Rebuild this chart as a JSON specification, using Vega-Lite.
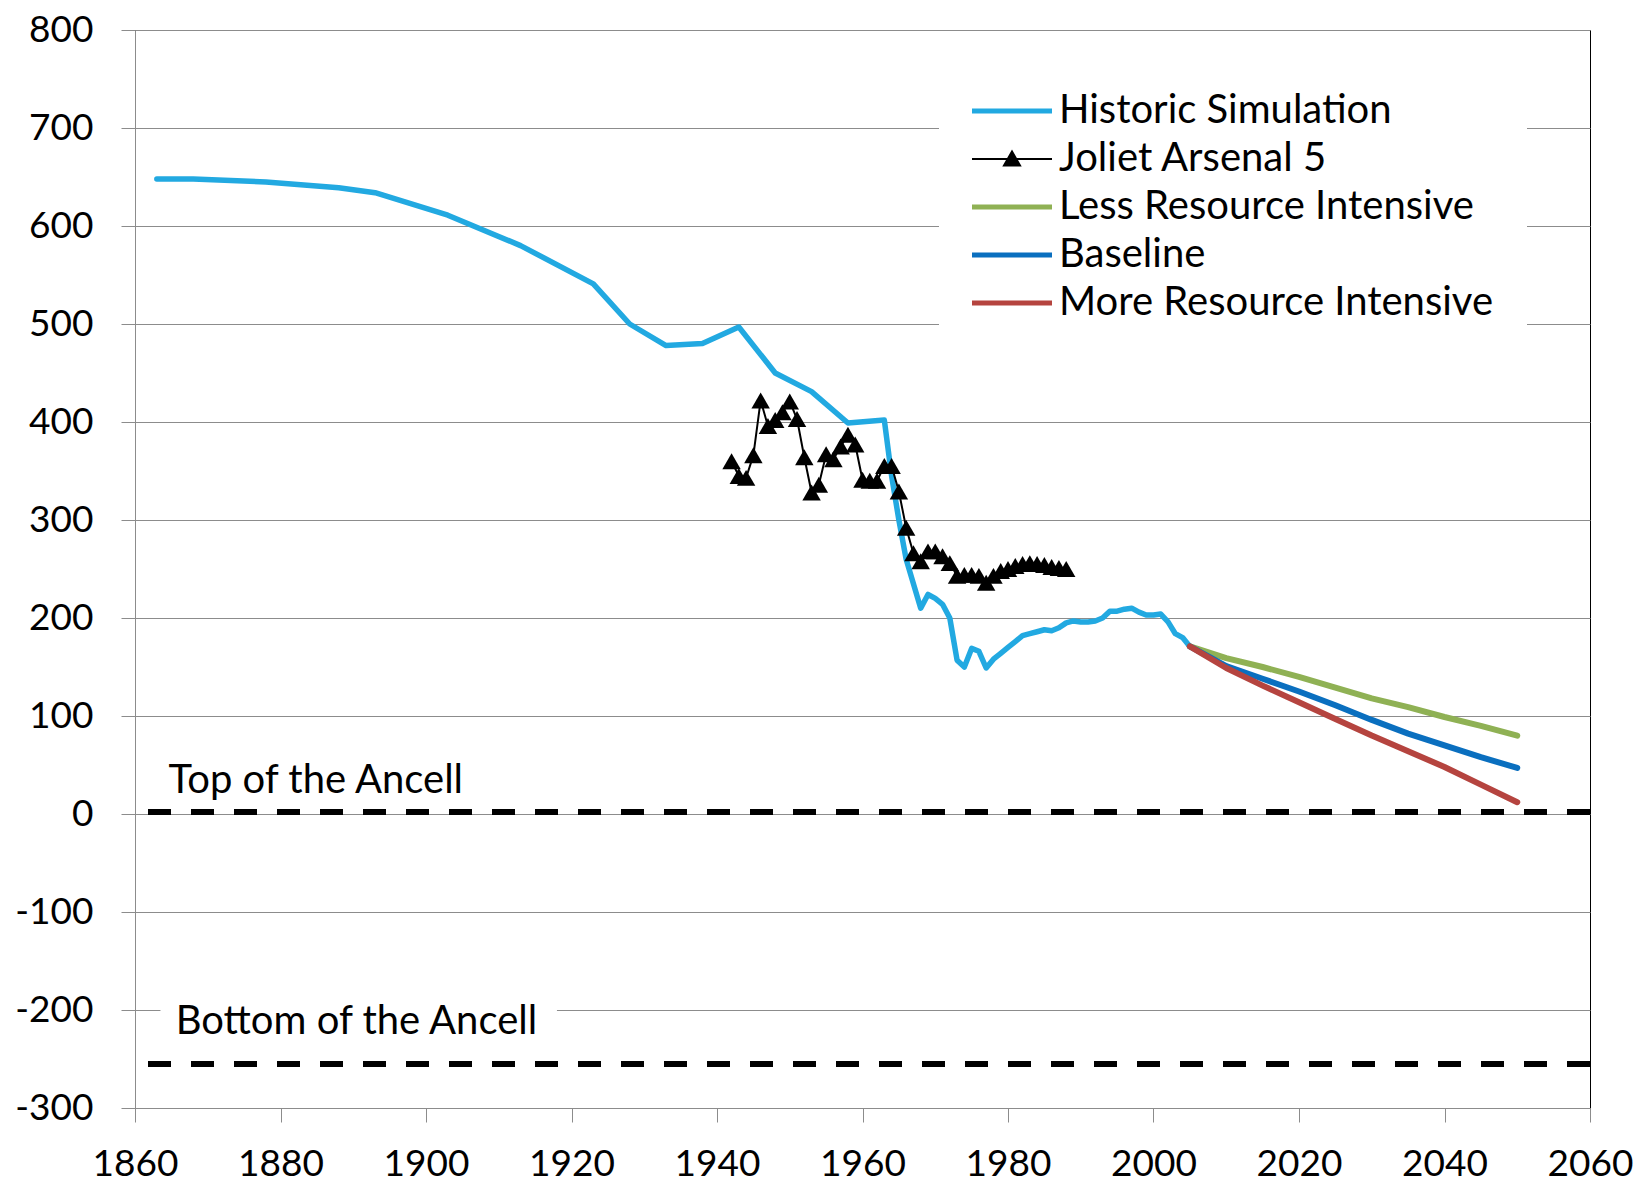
{
  "$schema": "https://vega.github.io/schema/vega-lite/v6.json",
  "width": 1455,
  "height": 1078,
  "autosize": "none",
  "padding": {"left": 135, "top": 30, "right": 58, "bottom": 84},
  "background": "white",
  "config": {
    "font": "Lato",
    "view": {"stroke": "black", "strokeWidth": 1},
    "axis": {
      "labelFont": "Lato",
      "labelFontSize": 37,
      "labelColor": "black",
      "domainColor": "#8c8c8c",
      "tickColor": "#8c8c8c",
      "gridColor": "#8c8c8c",
      "tickSize": 14,
      "title": null
    }
  },
  "datasets": {
    "series": [
      {"series": "Historic Simulation", "year": 1863, "value": 648},
      {"series": "Historic Simulation", "year": 1868, "value": 648},
      {"series": "Historic Simulation", "year": 1878, "value": 645},
      {"series": "Historic Simulation", "year": 1888, "value": 639},
      {"series": "Historic Simulation", "year": 1893, "value": 634},
      {"series": "Historic Simulation", "year": 1903, "value": 611},
      {"series": "Historic Simulation", "year": 1913, "value": 580},
      {"series": "Historic Simulation", "year": 1923, "value": 541},
      {"series": "Historic Simulation", "year": 1928, "value": 500},
      {"series": "Historic Simulation", "year": 1933, "value": 478},
      {"series": "Historic Simulation", "year": 1938, "value": 480},
      {"series": "Historic Simulation", "year": 1943, "value": 497},
      {"series": "Historic Simulation", "year": 1948, "value": 450},
      {"series": "Historic Simulation", "year": 1953, "value": 431},
      {"series": "Historic Simulation", "year": 1958, "value": 399},
      {"series": "Historic Simulation", "year": 1963, "value": 402},
      {"series": "Historic Simulation", "year": 1964, "value": 345},
      {"series": "Historic Simulation", "year": 1965, "value": 300},
      {"series": "Historic Simulation", "year": 1966, "value": 260},
      {"series": "Historic Simulation", "year": 1967, "value": 235},
      {"series": "Historic Simulation", "year": 1968, "value": 210},
      {"series": "Historic Simulation", "year": 1969, "value": 224},
      {"series": "Historic Simulation", "year": 1970, "value": 220},
      {"series": "Historic Simulation", "year": 1971, "value": 214},
      {"series": "Historic Simulation", "year": 1972, "value": 200},
      {"series": "Historic Simulation", "year": 1973, "value": 157},
      {"series": "Historic Simulation", "year": 1974, "value": 150},
      {"series": "Historic Simulation", "year": 1975, "value": 169},
      {"series": "Historic Simulation", "year": 1976, "value": 166},
      {"series": "Historic Simulation", "year": 1977, "value": 149},
      {"series": "Historic Simulation", "year": 1978, "value": 158},
      {"series": "Historic Simulation", "year": 1979, "value": 164},
      {"series": "Historic Simulation", "year": 1980, "value": 170},
      {"series": "Historic Simulation", "year": 1981, "value": 176},
      {"series": "Historic Simulation", "year": 1982, "value": 182},
      {"series": "Historic Simulation", "year": 1983, "value": 184},
      {"series": "Historic Simulation", "year": 1984, "value": 186},
      {"series": "Historic Simulation", "year": 1985, "value": 188},
      {"series": "Historic Simulation", "year": 1986, "value": 187},
      {"series": "Historic Simulation", "year": 1987, "value": 190},
      {"series": "Historic Simulation", "year": 1988, "value": 195},
      {"series": "Historic Simulation", "year": 1989, "value": 197},
      {"series": "Historic Simulation", "year": 1990, "value": 196},
      {"series": "Historic Simulation", "year": 1991, "value": 196},
      {"series": "Historic Simulation", "year": 1992, "value": 197},
      {"series": "Historic Simulation", "year": 1993, "value": 200},
      {"series": "Historic Simulation", "year": 1994, "value": 207},
      {"series": "Historic Simulation", "year": 1995, "value": 207},
      {"series": "Historic Simulation", "year": 1996, "value": 209},
      {"series": "Historic Simulation", "year": 1997, "value": 210},
      {"series": "Historic Simulation", "year": 1998, "value": 206},
      {"series": "Historic Simulation", "year": 1999, "value": 203},
      {"series": "Historic Simulation", "year": 2000, "value": 203},
      {"series": "Historic Simulation", "year": 2001, "value": 204},
      {"series": "Historic Simulation", "year": 2002, "value": 196},
      {"series": "Historic Simulation", "year": 2003, "value": 184},
      {"series": "Historic Simulation", "year": 2004, "value": 180},
      {"series": "Historic Simulation", "year": 2005, "value": 171},
      {"series": "Joliet Arsenal 5", "year": 1942, "value": 360},
      {"series": "Joliet Arsenal 5", "year": 1943, "value": 345},
      {"series": "Joliet Arsenal 5", "year": 1944, "value": 343},
      {"series": "Joliet Arsenal 5", "year": 1945, "value": 366},
      {"series": "Joliet Arsenal 5", "year": 1946, "value": 422},
      {"series": "Joliet Arsenal 5", "year": 1947, "value": 396},
      {"series": "Joliet Arsenal 5", "year": 1948, "value": 402},
      {"series": "Joliet Arsenal 5", "year": 1949, "value": 410},
      {"series": "Joliet Arsenal 5", "year": 1950, "value": 421},
      {"series": "Joliet Arsenal 5", "year": 1951, "value": 403},
      {"series": "Joliet Arsenal 5", "year": 1952, "value": 364},
      {"series": "Joliet Arsenal 5", "year": 1953, "value": 328},
      {"series": "Joliet Arsenal 5", "year": 1954, "value": 336},
      {"series": "Joliet Arsenal 5", "year": 1955, "value": 367},
      {"series": "Joliet Arsenal 5", "year": 1956, "value": 362},
      {"series": "Joliet Arsenal 5", "year": 1957, "value": 375},
      {"series": "Joliet Arsenal 5", "year": 1958, "value": 387},
      {"series": "Joliet Arsenal 5", "year": 1959, "value": 377},
      {"series": "Joliet Arsenal 5", "year": 1960, "value": 341},
      {"series": "Joliet Arsenal 5", "year": 1961, "value": 340},
      {"series": "Joliet Arsenal 5", "year": 1962, "value": 340},
      {"series": "Joliet Arsenal 5", "year": 1963, "value": 355},
      {"series": "Joliet Arsenal 5", "year": 1964, "value": 355},
      {"series": "Joliet Arsenal 5", "year": 1965, "value": 329},
      {"series": "Joliet Arsenal 5", "year": 1966, "value": 292},
      {"series": "Joliet Arsenal 5", "year": 1967, "value": 266},
      {"series": "Joliet Arsenal 5", "year": 1968, "value": 258},
      {"series": "Joliet Arsenal 5", "year": 1969, "value": 268},
      {"series": "Joliet Arsenal 5", "year": 1970, "value": 268},
      {"series": "Joliet Arsenal 5", "year": 1971, "value": 263},
      {"series": "Joliet Arsenal 5", "year": 1972, "value": 256},
      {"series": "Joliet Arsenal 5", "year": 1973, "value": 243},
      {"series": "Joliet Arsenal 5", "year": 1974, "value": 244},
      {"series": "Joliet Arsenal 5", "year": 1975, "value": 244},
      {"series": "Joliet Arsenal 5", "year": 1976, "value": 243},
      {"series": "Joliet Arsenal 5", "year": 1977, "value": 236},
      {"series": "Joliet Arsenal 5", "year": 1978, "value": 243},
      {"series": "Joliet Arsenal 5", "year": 1979, "value": 248},
      {"series": "Joliet Arsenal 5", "year": 1980, "value": 250},
      {"series": "Joliet Arsenal 5", "year": 1981, "value": 253},
      {"series": "Joliet Arsenal 5", "year": 1982, "value": 255},
      {"series": "Joliet Arsenal 5", "year": 1983, "value": 256},
      {"series": "Joliet Arsenal 5", "year": 1984, "value": 255},
      {"series": "Joliet Arsenal 5", "year": 1985, "value": 254},
      {"series": "Joliet Arsenal 5", "year": 1986, "value": 252},
      {"series": "Joliet Arsenal 5", "year": 1987, "value": 251},
      {"series": "Joliet Arsenal 5", "year": 1988, "value": 250},
      {"series": "Less Resource Intensive", "year": 2005, "value": 171},
      {"series": "Less Resource Intensive", "year": 2010, "value": 159},
      {"series": "Less Resource Intensive", "year": 2015, "value": 150},
      {"series": "Less Resource Intensive", "year": 2020, "value": 140},
      {"series": "Less Resource Intensive", "year": 2025, "value": 129},
      {"series": "Less Resource Intensive", "year": 2030, "value": 118},
      {"series": "Less Resource Intensive", "year": 2035, "value": 109},
      {"series": "Less Resource Intensive", "year": 2040, "value": 99},
      {"series": "Less Resource Intensive", "year": 2045, "value": 90},
      {"series": "Less Resource Intensive", "year": 2050, "value": 80},
      {"series": "Baseline", "year": 2005, "value": 171},
      {"series": "Baseline", "year": 2010, "value": 151},
      {"series": "Baseline", "year": 2015, "value": 138},
      {"series": "Baseline", "year": 2020, "value": 125},
      {"series": "Baseline", "year": 2025, "value": 111},
      {"series": "Baseline", "year": 2030, "value": 96},
      {"series": "Baseline", "year": 2035, "value": 82},
      {"series": "Baseline", "year": 2040, "value": 70},
      {"series": "Baseline", "year": 2045, "value": 58},
      {"series": "Baseline", "year": 2050, "value": 47},
      {"series": "More Resource Intensive", "year": 2005, "value": 171},
      {"series": "More Resource Intensive", "year": 2010, "value": 149},
      {"series": "More Resource Intensive", "year": 2015, "value": 131},
      {"series": "More Resource Intensive", "year": 2020, "value": 114},
      {"series": "More Resource Intensive", "year": 2025, "value": 97},
      {"series": "More Resource Intensive", "year": 2030, "value": 80},
      {"series": "More Resource Intensive", "year": 2035, "value": 64},
      {"series": "More Resource Intensive", "year": 2040, "value": 48},
      {"series": "More Resource Intensive", "year": 2045, "value": 30},
      {"series": "More Resource Intensive", "year": 2050, "value": 12}
    ],
    "ancell": [
      {"name": "Top of the Ancell", "level": 2},
      {"name": "Bottom of the Ancell", "level": -255}
    ]
  },
  "layer": [
    {
      "data": {"name": "series"},
      "transform": [{"filter": "datum.series === 'Historic Simulation'"}],
      "mark": {"type": "line", "strokeWidth": 5.5, "strokeJoin": "round", "strokeCap": "round"},
      "encoding": {
        "x": {
          "field": "year", "type": "quantitative",
          "scale": {"domain": [1860, 2060], "nice": false, "zero": false},
          "axis": {"values": [1860, 1880, 1900, 1920, 1940, 1960, 1980, 2000, 2020, 2040, 2060], "format": "d", "grid": false, "labelPadding": 24, "labelFlush": false}
        },
        "y": {
          "field": "value", "type": "quantitative",
          "scale": {"domain": [-300, 800], "nice": false, "zero": false},
          "axis": {"values": [-300, -200, -100, 0, 100, 200, 300, 400, 500, 600, 700, 800], "grid": true, "labelPadding": 28,
                   "labelExpr": "datum.value < 0 ? '-' + format(-datum.value, 'd') : format(datum.value, 'd')"}
        },
        "color": {
          "field": "series", "type": "nominal",
          "scale": {
            "domain": ["Historic Simulation", "Joliet Arsenal 5", "Less Resource Intensive", "Baseline", "More Resource Intensive"],
            "range": ["#22A9E1", "#000000", "#8FB154", "#0A6FBF", "#B5443F"]
          },
          "legend": {
            "orient": "none", "legendX": 804, "legendY": 28,
            "title": null,
            "fillColor": "white",
            "padding": 33,
            "labelFont": "Lato", "labelFontSize": 40, "labelColor": "black",
            "labelLimit": 800,
            "labelOffset": 47,
            "rowPadding": 8,
            "symbolType": "M-2,0H6",
            "symbolSize": 400,
            "symbolStrokeWidth": 5,
            "encode": {
              "symbols": {
                "update": {
                  "shape": {"signal": "datum.value === 'Joliet Arsenal 5' ? 'M-2,0H6M1.2,0.65L2,-0.75L2.8,0.65Z' : 'M-2,0H6'"},
                  "strokeWidth": {"signal": "datum.value === 'Joliet Arsenal 5' ? 2 : 5"},
                  "fill": {"signal": "datum.value === 'Joliet Arsenal 5' ? 'black' : 'transparent'"}
                }
              }
            }
          }
        }
      }
    },
    {
      "data": {"values": [{}]},
      "mark": {"type": "rect", "color": "white"},
      "encoding": {
        "x": {"datum": 1863.5, "type": "quantitative"},
        "x2": {"datum": 1918},
        "y": {"datum": -183, "type": "quantitative"},
        "y2": {"datum": -238}
      }
    },
    {
      "data": {"name": "ancell"},
      "mark": {"type": "rule", "strokeDash": [23, 20], "strokeWidth": 6, "color": "black"},
      "encoding": {"y": {"field": "level", "type": "quantitative"}}
    },
    {
      "data": {"values": [{}]},
      "mark": {"type": "text", "text": "Top of the Ancell", "align": "left", "baseline": "alphabetic", "fontSize": 40, "font": "Lato", "color": "black"},
      "encoding": {
        "x": {"datum": 1864.6, "type": "quantitative"},
        "y": {"datum": 21, "type": "quantitative"}
      }
    },
    {
      "data": {"values": [{}]},
      "mark": {"type": "text", "text": "Bottom of the Ancell", "align": "left", "baseline": "alphabetic", "fontSize": 40, "font": "Lato", "color": "black"},
      "encoding": {
        "x": {"datum": 1865.6, "type": "quantitative"},
        "y": {"datum": -224.5, "type": "quantitative"}
      }
    },
    {
      "data": {"name": "series"},
      "transform": [{"filter": "datum.series === 'Joliet Arsenal 5'"}],
      "mark": {"type": "line", "strokeWidth": 2},
      "encoding": {
        "x": {"field": "year", "type": "quantitative"},
        "y": {"field": "value", "type": "quantitative"},
        "color": {"field": "series", "type": "nominal"}
      }
    },
    {
      "data": {"name": "series"},
      "transform": [{"filter": "datum.series === 'Joliet Arsenal 5'"}],
      "mark": {"type": "point", "shape": "triangle-up", "filled": true, "size": 340, "color": "black", "opacity": 1},
      "encoding": {
        "x": {"field": "year", "type": "quantitative"},
        "y": {"field": "value", "type": "quantitative"}
      }
    },
    {
      "data": {"name": "series"},
      "transform": [{"filter": "datum.series !== 'Historic Simulation' && datum.series !== 'Joliet Arsenal 5'"}],
      "mark": {"type": "line", "strokeWidth": 6, "strokeJoin": "round", "strokeCap": "round"},
      "encoding": {
        "x": {"field": "year", "type": "quantitative"},
        "y": {"field": "value", "type": "quantitative"},
        "color": {"field": "series", "type": "nominal"}
      }
    }
  ]
}
